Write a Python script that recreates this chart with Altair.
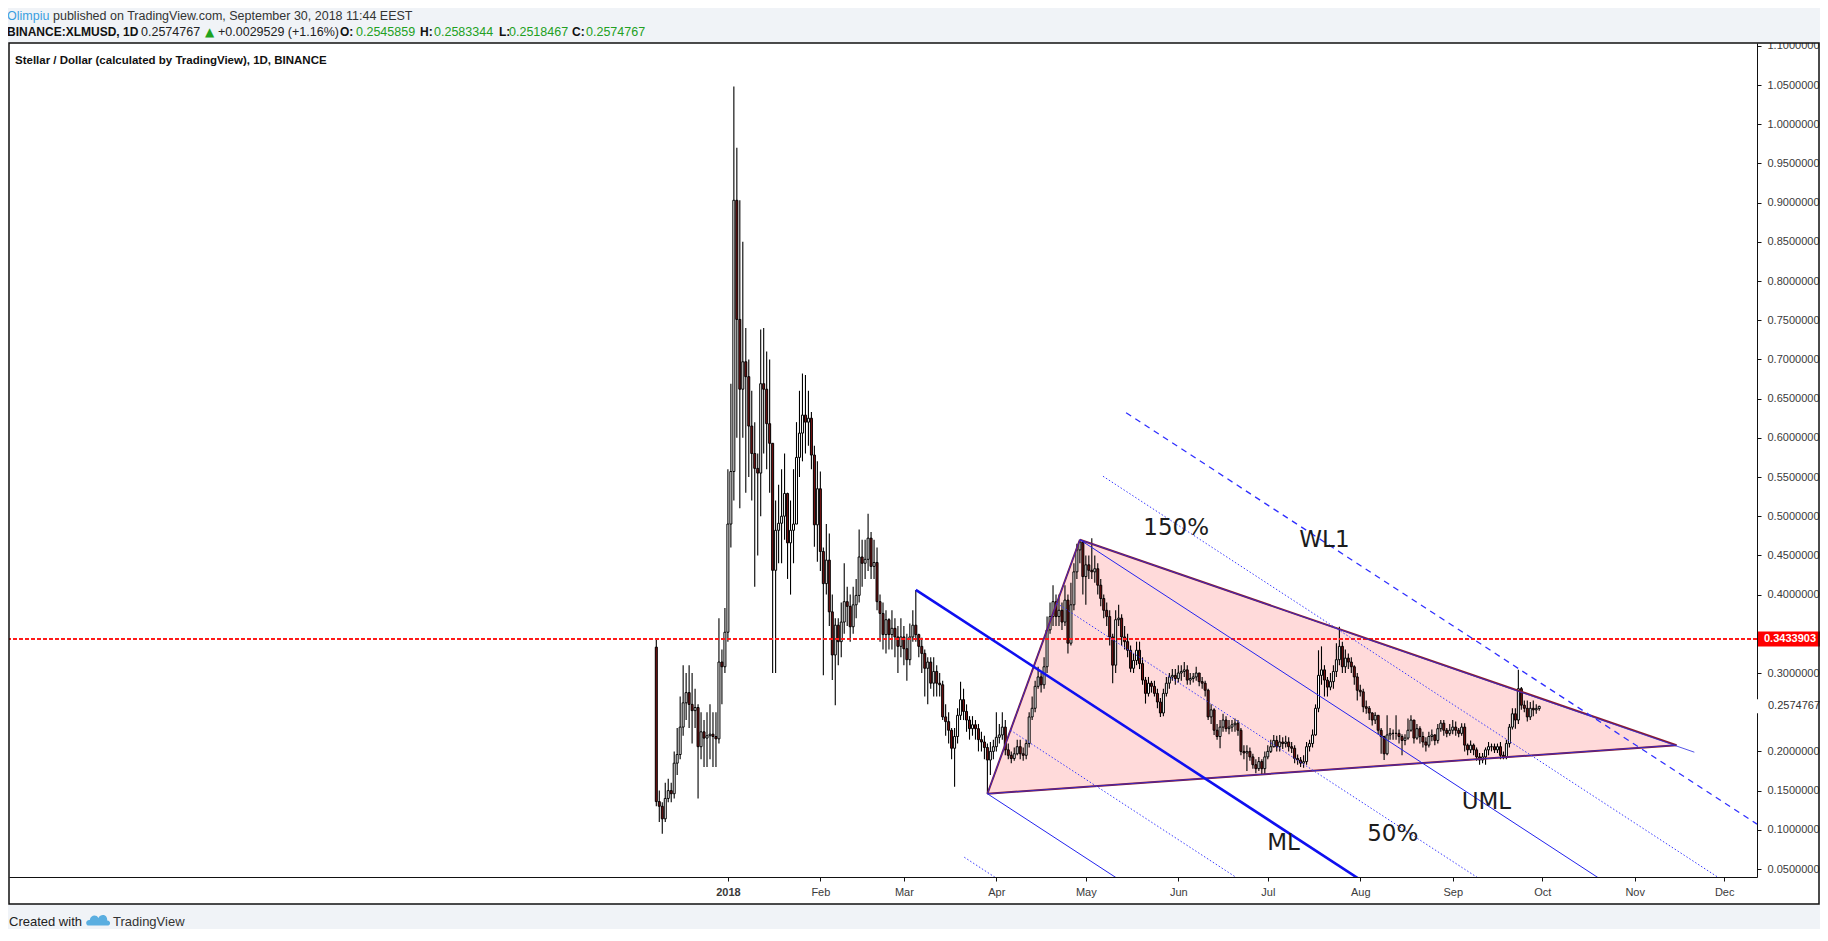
import altair as alt
import pandas as pd
from datetime import datetime, timedelta

# ---------------- daily candles (Dec 8 2017 .. Sep 30 2018) ----------------
first_open = 0.333
close_dec = [0.136, 0.130, 0.114, 0.140, 0.150, 0.146, 0.185, 0.196, 0.231, 0.262, 0.275, 0.260,
             0.252, 0.256, 0.206, 0.225, 0.217, 0.220, 0.222, 0.219, 0.216, 0.314, 0.308, 0.352]
high_dec = [0.3434, 0.150, 0.135, 0.160, 0.165, 0.160, 0.200, 0.230, 0.270, 0.310, 0.300, 0.310,
            0.300, 0.280, 0.260, 0.250, 0.240, 0.250, 0.260, 0.250, 0.250, 0.370, 0.330, 0.383]
low_dec = [0.130, 0.110, 0.095, 0.110, 0.135, 0.135, 0.140, 0.170, 0.190, 0.220, 0.240, 0.230,
           0.210, 0.230, 0.140, 0.190, 0.180, 0.180, 0.190, 0.180, 0.180, 0.210, 0.260, 0.300]

close_jan = [0.490, 0.557, 0.903, 0.751, 0.662, 0.697, 0.678, 0.615, 0.580, 0.561, 0.555, 0.669,
             0.662, 0.618, 0.593, 0.431, 0.482, 0.491, 0.500, 0.529, 0.466, 0.482, 0.490, 0.575,
             0.606, 0.629, 0.620, 0.625, 0.578, 0.489, 0.535]
high_jan = [0.560, 0.669, 1.048, 0.970, 0.903, 0.850, 0.740, 0.700, 0.660, 0.620, 0.580, 0.738,
            0.740, 0.710, 0.700, 0.590, 0.520, 0.540, 0.560, 0.580, 0.530, 0.520, 0.560, 0.620,
            0.660, 0.682, 0.680, 0.660, 0.633, 0.590, 0.570]
low_jan = [0.340, 0.460, 0.520, 0.600, 0.510, 0.600, 0.530, 0.550, 0.520, 0.410, 0.450, 0.500,
           0.580, 0.560, 0.530, 0.300, 0.300, 0.440, 0.440, 0.470, 0.420, 0.400, 0.440, 0.490,
           0.550, 0.570, 0.580, 0.590, 0.560, 0.461, 0.442]

close_feb = [0.455, 0.414, 0.444, 0.378, 0.323, 0.361, 0.340, 0.365, 0.391, 0.385, 0.359, 0.387,
             0.399, 0.448, 0.440, 0.445, 0.472, 0.436, 0.441, 0.391, 0.376, 0.349, 0.368, 0.349,
             0.357, 0.346, 0.334, 0.346]
high_feb = [0.557, 0.460, 0.490, 0.478, 0.400, 0.370, 0.370, 0.390, 0.440, 0.410, 0.400, 0.410,
            0.420, 0.483, 0.470, 0.470, 0.503, 0.480, 0.470, 0.460, 0.400, 0.390, 0.380, 0.370,
            0.380, 0.370, 0.360, 0.370]
low_feb = [0.430, 0.297, 0.400, 0.360, 0.291, 0.259, 0.310, 0.320, 0.350, 0.360, 0.340, 0.350,
           0.370, 0.390, 0.410, 0.420, 0.430, 0.420, 0.420, 0.380, 0.340, 0.330, 0.325, 0.330,
           0.330, 0.320, 0.300, 0.320]

close_mar = [0.331, 0.317, 0.346, 0.361, 0.349, 0.334, 0.325, 0.306, 0.314, 0.287, 0.302, 0.287,
             0.285, 0.244, 0.238, 0.227, 0.204, 0.219, 0.246, 0.266, 0.251, 0.240, 0.229, 0.234,
             0.229, 0.215, 0.212, 0.205, 0.189, 0.200, 0.206]
high_mar = [0.360, 0.350, 0.363, 0.380, 0.406, 0.350, 0.345, 0.330, 0.320, 0.320, 0.320, 0.310,
            0.300, 0.290, 0.260, 0.250, 0.230, 0.230, 0.255, 0.289, 0.280, 0.260, 0.245, 0.245,
            0.240, 0.235, 0.225, 0.220, 0.210, 0.212, 0.215]
low_mar = [0.310, 0.290, 0.310, 0.340, 0.340, 0.320, 0.300, 0.270, 0.260, 0.280, 0.270, 0.270,
           0.270, 0.240, 0.220, 0.210, 0.190, 0.155, 0.210, 0.240, 0.240, 0.225, 0.215, 0.220,
           0.215, 0.200, 0.200, 0.190, 0.146, 0.170, 0.190]

close_apr = [0.218, 0.221, 0.231, 0.202, 0.195, 0.191, 0.197, 0.206, 0.197, 0.195, 0.210, 0.244,
             0.255, 0.283, 0.295, 0.285, 0.308, 0.355, 0.372, 0.391, 0.372, 0.380, 0.365, 0.393,
             0.338, 0.387, 0.429, 0.457, 0.467, 0.423]
high_apr = [0.250, 0.235, 0.250, 0.240, 0.210, 0.200, 0.205, 0.215, 0.215, 0.205, 0.215, 0.250,
            0.270, 0.290, 0.308, 0.300, 0.320, 0.372, 0.390, 0.412, 0.400, 0.400, 0.390, 0.412,
            0.400, 0.415, 0.440, 0.465, 0.470, 0.465]
low_apr = [0.200, 0.210, 0.215, 0.195, 0.190, 0.185, 0.188, 0.195, 0.190, 0.188, 0.190, 0.205,
           0.240, 0.250, 0.280, 0.275, 0.280, 0.300, 0.350, 0.360, 0.360, 0.360, 0.355, 0.360,
           0.325, 0.335, 0.380, 0.420, 0.440, 0.400]

close_may = [0.438, 0.431, 0.429, 0.433, 0.412, 0.395, 0.380, 0.372, 0.346, 0.310, 0.368, 0.370,
             0.346, 0.340, 0.329, 0.306, 0.316, 0.329, 0.312, 0.291, 0.274, 0.287, 0.283, 0.274,
             0.263, 0.249, 0.274, 0.287, 0.295, 0.297, 0.293]
high_may = [0.450, 0.450, 0.472, 0.450, 0.440, 0.420, 0.400, 0.390, 0.380, 0.350, 0.380, 0.387,
            0.375, 0.360, 0.350, 0.335, 0.325, 0.340, 0.340, 0.320, 0.295, 0.295, 0.290, 0.290,
            0.280, 0.268, 0.280, 0.295, 0.300, 0.305, 0.305]
low_may = [0.387, 0.420, 0.420, 0.415, 0.400, 0.385, 0.370, 0.360, 0.335, 0.287, 0.300, 0.360,
           0.335, 0.330, 0.320, 0.301, 0.300, 0.310, 0.305, 0.285, 0.261, 0.270, 0.275, 0.270,
           0.255, 0.244, 0.245, 0.270, 0.280, 0.290, 0.285]

close_jun = [0.300, 0.302, 0.304, 0.291, 0.293, 0.295, 0.300, 0.289, 0.287, 0.278, 0.244, 0.253,
             0.227, 0.219, 0.231, 0.240, 0.229, 0.231, 0.234, 0.236, 0.227, 0.200, 0.198, 0.200,
             0.193, 0.183, 0.178, 0.187, 0.178, 0.193]
high_jun = [0.310, 0.310, 0.314, 0.310, 0.300, 0.300, 0.308, 0.300, 0.295, 0.290, 0.280, 0.260,
            0.255, 0.235, 0.240, 0.248, 0.245, 0.240, 0.240, 0.242, 0.240, 0.230, 0.208, 0.208,
            0.205, 0.197, 0.190, 0.193, 0.190, 0.200]
low_jun = [0.288, 0.290, 0.295, 0.285, 0.285, 0.288, 0.290, 0.283, 0.280, 0.270, 0.240, 0.235,
           0.221, 0.215, 0.204, 0.225, 0.225, 0.222, 0.225, 0.225, 0.220, 0.195, 0.190, 0.175,
           0.188, 0.178, 0.172, 0.175, 0.170, 0.170]

close_jul = [0.200, 0.206, 0.214, 0.206, 0.212, 0.210, 0.212, 0.206, 0.204, 0.191, 0.189, 0.185,
             0.187, 0.206, 0.210, 0.221, 0.255, 0.297, 0.304, 0.291, 0.282, 0.289, 0.302, 0.317,
             0.334, 0.308, 0.319, 0.314, 0.308, 0.295, 0.278]
high_jul = [0.208, 0.215, 0.221, 0.220, 0.221, 0.218, 0.220, 0.218, 0.212, 0.208, 0.196, 0.193,
            0.195, 0.212, 0.215, 0.228, 0.260, 0.329, 0.334, 0.310, 0.295, 0.300, 0.310, 0.338,
            0.359, 0.340, 0.330, 0.325, 0.320, 0.310, 0.300]
low_jul = [0.190, 0.198, 0.205, 0.200, 0.200, 0.203, 0.205, 0.200, 0.198, 0.185, 0.183, 0.180,
           0.179, 0.183, 0.200, 0.205, 0.220, 0.250, 0.285, 0.270, 0.270, 0.278, 0.280, 0.295,
           0.310, 0.300, 0.300, 0.305, 0.300, 0.285, 0.265]

close_aug = [0.276, 0.257, 0.255, 0.249, 0.240, 0.246, 0.227, 0.219, 0.197, 0.221, 0.223, 0.223,
             0.223, 0.219, 0.214, 0.217, 0.227, 0.240, 0.217, 0.229, 0.219, 0.212, 0.208, 0.219,
             0.221, 0.214, 0.229, 0.236, 0.227, 0.223, 0.227]
high_aug = [0.285, 0.280, 0.265, 0.258, 0.250, 0.250, 0.246, 0.230, 0.220, 0.246, 0.230, 0.228,
            0.246, 0.228, 0.222, 0.222, 0.242, 0.246, 0.240, 0.235, 0.232, 0.225, 0.218, 0.225,
            0.228, 0.222, 0.235, 0.240, 0.240, 0.230, 0.235]
low_aug = [0.270, 0.250, 0.248, 0.240, 0.233, 0.235, 0.222, 0.197, 0.189, 0.195, 0.215, 0.215,
           0.215, 0.210, 0.195, 0.208, 0.215, 0.225, 0.210, 0.215, 0.210, 0.205, 0.200, 0.205,
           0.213, 0.208, 0.210, 0.225, 0.220, 0.218, 0.220]

close_sep = [0.231, 0.227, 0.223, 0.231, 0.208, 0.202, 0.208, 0.202, 0.193, 0.189, 0.193, 0.202,
             0.206, 0.206, 0.202, 0.206, 0.195, 0.193, 0.210, 0.231, 0.248, 0.240, 0.280, 0.259,
             0.255, 0.244, 0.255, 0.253, 0.2545859, 0.2574767]
high_sep = [0.240, 0.238, 0.230, 0.236, 0.236, 0.210, 0.214, 0.210, 0.205, 0.198, 0.198, 0.205,
            0.212, 0.210, 0.210, 0.210, 0.212, 0.200, 0.215, 0.235, 0.255, 0.255, 0.304, 0.282,
            0.265, 0.265, 0.263, 0.265, 0.260, 0.2583344]
low_sep = [0.222, 0.220, 0.218, 0.220, 0.200, 0.195, 0.198, 0.195, 0.188, 0.183, 0.185, 0.183,
           0.195, 0.200, 0.198, 0.198, 0.190, 0.190, 0.190, 0.205, 0.228, 0.229, 0.235, 0.253,
           0.250, 0.238, 0.240, 0.245, 0.248, 0.2518467]

# ---------------- drawing anchors (day offset from 2018-01-01, price) ----------------
pitch_p1 = (63, 0.406)
pitch_p2 = (87, 0.146)
pitch_p3 = (118, 0.470)
tri_apex = (318, 0.208)
upper_trend_end = (324, 0.199)
fork_levels = [-1.5, -1.0, -0.5, 0.0, 0.5, 1.0, 1.5, 2.0]
fork_styles = ["dot", "solid", "dot", "ml", "dot", "solid", "dot", "dash"]

hline_price = 0.3433903
last_price = 0.2574767

ann_text = ["150%", "WL1", "UML", "50%", "ML"]
ann_day = [150.3, 200.0, 254.3, 222.9, 186.3]
ann_price = [0.485, 0.470, 0.135, 0.095, 0.083]

# axis tick values (0.35 and 0.25 sit under the price boxes in the reference)
y_ticks = [0.05, 0.10, 0.15, 0.20, 0.30, 0.40, 0.45, 0.50, 0.55, 0.60, 0.65,
           0.70, 0.75, 0.80, 0.85, 0.90, 0.95, 1.00, 1.05, 1.10]
tick_months = [1, 2, 3, 4, 5, 6, 7, 8, 9, 10, 11, 12]

# ---------------- build tables ----------------
base = datetime(2018, 1, 1)


def iso(dt):
    return dt.strftime("%Y-%m-%dT%H:%M:%S")


def day_iso(d):
    return iso(base + timedelta(days=d))


closes = close_dec + close_jan + close_feb + close_mar + close_apr + close_may + close_jun + close_jul + close_aug + close_sep
highs = high_dec + high_jan + high_feb + high_mar + high_apr + high_may + high_jun + high_jul + high_aug + high_sep
lows = low_dec + low_jan + low_feb + low_mar + low_apr + low_may + low_jun + low_jul + low_aug + low_sep
opens = [first_open] + closes[:-1]
start = datetime(2017, 12, 8)
rows = []
for i, (o, h, l, c) in enumerate(zip(opens, highs, lows, closes)):
    rows.append({"date": iso(start + timedelta(days=i)), "open": o, "close": c,
                 "high": max(h, o, c), "low": min(l, o, c),
                 "dir": "up" if c >= o else "down"})
candles = pd.DataFrame(rows)

# pitchfork lines
mx = (pitch_p2[0] + pitch_p3[0]) / 2
my = (pitch_p2[1] + pitch_p3[1]) / 2
slope = (my - pitch_p1[1]) / (mx - pitch_p1[0])
x_end = 345
fork_rows = []
for k, st in zip(fork_levels, fork_styles):
    if k == 0:
        sx, sy = pitch_p1
    else:
        sx = mx + k * (pitch_p3[0] - mx)
        sy = my + k * (pitch_p3[1] - my)
    ey = sy + slope * (x_end - sx)
    seg = "L%s" % k
    fork_rows.append({"seg": seg, "style": st, "date": day_iso(sx), "price": sy})
    fork_rows.append({"seg": seg, "style": st, "date": day_iso(x_end), "price": ey})
fork = pd.DataFrame(fork_rows)

# triangle
lower_at_p3 = pitch_p2[1] + (tri_apex[1] - pitch_p2[1]) * (pitch_p3[0] - pitch_p2[0]) / (tri_apex[0] - pitch_p2[0])
tri_area = pd.DataFrame({
    "date": [day_iso(pitch_p2[0]), day_iso(pitch_p3[0]), day_iso(tri_apex[0])],
    "top": [pitch_p2[1], pitch_p3[1], tri_apex[1]],
    "bottom": [pitch_p2[1], lower_at_p3, tri_apex[1]],
})
edges = pd.DataFrame([
    {"seg": "a", "date": day_iso(pitch_p2[0]), "price": pitch_p2[1]},
    {"seg": "a", "date": day_iso(pitch_p3[0]), "price": pitch_p3[1]},
    {"seg": "b", "date": day_iso(pitch_p3[0]), "price": pitch_p3[1]},
    {"seg": "b", "date": day_iso(tri_apex[0]), "price": tri_apex[1]},
    {"seg": "c", "date": day_iso(pitch_p2[0]), "price": pitch_p2[1]},
    {"seg": "c", "date": day_iso(tri_apex[0]), "price": tri_apex[1]},
])
blue_lines = pd.DataFrame([
    {"seg": "a", "date": day_iso(pitch_p2[0]), "price": pitch_p2[1]},
    {"seg": "a", "date": day_iso(pitch_p3[0]), "price": pitch_p3[1]},
    {"seg": "b", "date": day_iso(pitch_p3[0]), "price": pitch_p3[1]},
    {"seg": "b", "date": day_iso(upper_trend_end[0]), "price": upper_trend_end[1]},
    {"seg": "c", "date": day_iso(pitch_p2[0]), "price": pitch_p2[1]},
    {"seg": "c", "date": day_iso(tri_apex[0]), "price": tri_apex[1]},
])
ann = pd.DataFrame({"text": ann_text, "date": [day_iso(d) for d in ann_day], "price": ann_price})
hline = pd.DataFrame({"price": [hline_price], "label": ["%.7f" % hline_price]})
lastp = pd.DataFrame({"price": [last_price], "label": ["%.7f" % last_price]})
one = pd.DataFrame({"a": [0]})

# ---------------- scales / axes ----------------
left_dt = base - timedelta(days=239.33)
right_dt = base + timedelta(days=343.33)


def dtobj(dt):
    return alt.DateTime(year=dt.year, month=dt.month, date=dt.day, hours=dt.hour, minutes=dt.minute)


xscale = alt.Scale(domain=[dtobj(left_dt), dtobj(right_dt)])
xaxis = alt.Axis(
    values=[alt.DateTime(year=2018, month=m, date=1) for m in tick_months],
    labelExpr="month(datum.value) == 0 ? timeFormat(datum.value, '%Y') : timeFormat(datum.value, '%b')",
    labelFontWeight={"condition": {"test": "month(datum.value) == 0", "value": "bold"}, "value": "normal"},
    title=None, grid=False, domainColor="#111111", tickColor="#111111", tickSize=4,
    labelFont="Liberation Sans", labelFontSize=11, labelColor="#3a3a3a", labelPadding=5,
)
yscale = alt.Scale(domain=[0.0398, 1.1036], nice=False, zero=False)
yaxis = alt.Axis(
    orient="right", values=y_ticks, format=".7f", title=None, grid=False,
    domainColor="#111111", tickColor="#111111", tickSize=4, labelPadding=6,
    labelFont="Liberation Sans", labelFontSize=11, labelColor="#3a3a3a",
)


def X(f):
    return alt.X(f, type="temporal", scale=xscale, axis=xaxis)


def Y(f):
    return alt.Y(f, type="quantitative", scale=yscale, axis=yaxis)


def Y2(f):
    return alt.Y2(f)


layers = []

# pink triangle
layers.append(alt.Chart(tri_area).mark_area(color="#ffdada", opacity=1).encode(
    x=X("date"), y=Y("top"), y2=Y2("bottom")))

# candles
layers.append(alt.Chart(candles).mark_rule(color="#000000", strokeWidth=1.1).encode(
    x=X("date"), y=Y("low"), y2=Y2("high")))
layers.append(alt.Chart(candles).mark_bar(size=2.0, stroke="#000000", strokeWidth=1.0).encode(
    x=X("date"), y=Y("open"), y2=Y2("close"),
    fill=alt.Fill("dir:N", scale=alt.Scale(domain=["up", "down"], range=["#ffffff", "#7a1212"]), legend=None)))

# red horizontal line
layers.append(alt.Chart(hline).mark_rule(color="#ff1a1a", strokeWidth=2, strokeDash=[4, 2]).encode(
    y=Y("price")))

# triangle edges (maroon) and blue trendlines
layers.append(alt.Chart(edges).mark_line(color="#8a1c30", strokeWidth=2, clip=True).encode(
    x=X("date"), y=Y("price"), detail="seg:N"))
layers.append(alt.Chart(blue_lines).mark_line(color="#2a2ae0", strokeWidth=1, opacity=0.8, clip=True).encode(
    x=X("date"), y=Y("price"), detail="seg:N"))

# pitchfork
style_props = {
    "ml": dict(color="#0f0ff0", strokeWidth=2.6),
    "solid": dict(color="#2323ee", strokeWidth=1),
    "dot": dict(color="#3a3aff", strokeWidth=1, strokeDash=[1.5, 2]),
    "dash": dict(color="#2f2fff", strokeWidth=1.3, strokeDash=[6, 5]),
}
for st, props in style_props.items():
    layers.append(alt.Chart(fork).transform_filter(alt.datum.style == st).mark_line(clip=True, **props).encode(
        x=X("date"), y=Y("price"), detail="seg:N"))

# annotations
layers.append(alt.Chart(ann).mark_text(font="DejaVu Sans", fontSize=23, color="#1c1c1c",
                                       align="center", baseline="middle").encode(
    x=X("date"), y=Y("price"), text="text:N"))

# price labels on the axis
layers.append(alt.Chart(hline).mark_tick(orient="horizontal", size=62, thickness=15, color="#ff0000", opacity=1).encode(
    x=alt.value(1780), y=Y("price")))
layers.append(alt.Chart(hline).mark_text(align="left", baseline="middle", font="Liberation Sans", fontSize=11,
                                         fontWeight="bold", color="#ffffff").encode(
    x=alt.value(1755), y=Y("price"), text="label:N"))
layers.append(alt.Chart(lastp).mark_tick(orient="horizontal", size=64, thickness=14, color="#ffffff", opacity=1).encode(
    x=alt.value(1776), y=Y("price")))
layers.append(alt.Chart(lastp).mark_text(align="left", baseline="middle", font="Liberation Sans", fontSize=11,
                                         color="#333333").encode(
    x=alt.value(1759), y=Y("price"), text="label:N"))

# page furniture: grey header/footer bands, frame
grey = "#f0f3f7"
layers.append(alt.Chart(one).mark_rect(color=grey).encode(
    x=alt.value(-2), x2=alt.value(1813), y=alt.value(-36), y2=alt.value(0)))
layers.append(alt.Chart(one).mark_rect(color=grey).encode(
    x=alt.value(-2), x2=alt.value(1813), y=alt.value(861), y2=alt.value(890)))
layers.append(alt.Chart(one).mark_rect(fill="#ffffff", fillOpacity=0, stroke="#111111", strokeWidth=1.5).encode(
    x=alt.value(0), x2=alt.value(1810), y=alt.value(0), y2=alt.value(861)))

# header / footer texts (pixel positions relative to plot origin)
texts = [
    ("Olimpiu", -2, -27.5, "#3a9ee0", "normal", "Liberation Sans", 12.5),
    ("published on TradingView.com, September 30, 2018 11:44 EEST", 44, -27.5, "#333333", "normal", "Liberation Sans", 12.5),
    ("BINANCE:XLMUSD, 1D", -2, -11.5, "#111111", "bold", "Liberation Sans", 12),
    ("0.2574767", 132, -11.5, "#222222", "normal", "Liberation Sans", 12.5),
    ("\u25B2", 196, -11.5, "#1ea31e", "normal", "DejaVu Sans", 12),
    ("+0.0029529 (+1.16%)", 209, -11.5, "#222222", "normal", "Liberation Sans", 12.5),
    ("O:", 331, -11.5, "#111111", "bold", "Liberation Sans", 12),
    ("0.2545859", 347, -11.5, "#22a022", "normal", "Liberation Sans", 12.5),
    ("H:", 411, -11.5, "#111111", "bold", "Liberation Sans", 12),
    ("0.2583344", 425, -11.5, "#22a022", "normal", "Liberation Sans", 12.5),
    ("L:", 490, -11.5, "#111111", "bold", "Liberation Sans", 12),
    ("0.2518467", 500, -11.5, "#22a022", "normal", "Liberation Sans", 12.5),
    ("C:", 563, -11.5, "#111111", "bold", "Liberation Sans", 12),
    ("0.2574767", 577, -11.5, "#22a022", "normal", "Liberation Sans", 12.5),
    ("Stellar / Dollar (calculated by TradingView), 1D, BINANCE", 6, 18, "#111111", "bold", "Liberation Sans", 11.5),
    ("Created with", 0, 879, "#222222", "normal", "Liberation Sans", 13),
    ("TradingView", 104, 879, "#333333", "normal", "Liberation Sans", 13),
]
for t, tx, ty, col, wt, fnt, fs in texts:
    layers.append(alt.Chart(one).mark_text(text=t, align="left", baseline="middle", color=col,
                                           fontWeight=wt, font=fnt, fontSize=fs).encode(
        x=alt.value(tx), y=alt.value(ty)))

# TradingView cloud logo
cloud = "M -0.9 0.45 C -1.25 0.45 -1.25 -0.15 -0.8 -0.1 C -0.75 -0.6 -0.15 -0.7 0.05 -0.3 C 0.25 -0.75 0.95 -0.65 0.9 -0.05 C 1.3 0 1.25 0.45 0.9 0.45 Z"
layers.append(alt.Chart(one).mark_point(shape=cloud, filled=True, color="#5aaee0", size=420, opacity=1).encode(
    x=alt.value(89), y=alt.value(878)))

chart = alt.layer(*layers).properties(
    width=1748, height=834,
    padding={"left": 1, "top": 35, "right": 63, "bottom": 52},
    autosize=alt.AutoSizeParams(type="none"),
    background="#ffffff",
).configure_view(strokeWidth=0)

chart.save("out.html", embed_options={"renderer": "svg", "actions": False})
